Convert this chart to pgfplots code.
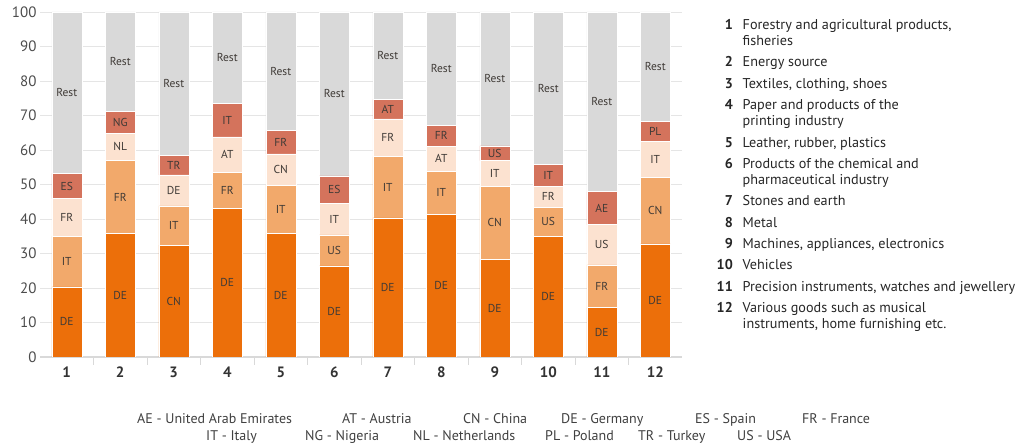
\documentclass[border=0pt]{standalone}
\usepackage{pgfplots}
\pgfplotsset{compat=1.18}
\usepackage{pgfplotstable}
\usepackage{fontspec}
\setmainfont{PT Sans}
\definecolor{cA}{HTML}{EC6F0A}
\definecolor{cB}{HTML}{F2A96B}
\definecolor{cC}{HTML}{FCE2D0}
\definecolor{cD}{HTML}{D4735C}
\definecolor{cR}{HTML}{D9D9D9}
\definecolor{txt}{HTML}{4D4D4D}
\definecolor{lbl}{HTML}{3F3A36}

\pgfplotstableread{
x v lab
1 20.3 DE
2 35.8 DE
3 32.4 CN
4 43.0 DE
5 35.8 DE
6 26.4 DE
7 40.3 DE
8 41.4 DE
9 28.3 DE
10 35.0 DE
11 14.3 DE
12 32.8 DE
}\LA
\pgfplotstableread{
x v lab
1 14.7 IT
2 21.1 FR
3 11.4 IT
4 10.6 FR
5 14.0 IT
6 9.0 US
7 17.8 IT
8 12.5 IT
9 21.1 CN
10 8.4 US
11 12.4 FR
12 19.3 CN
}\LB
\pgfplotstableread{
x v lab
1 10.9 FR
2 8.0 NL
3 9.0 DE
4 10.2 AT
5 9.1 CN
6 9.1 IT
7 10.9 FR
8 7.2 AT
9 7.5 IT
10 6.0 FR
11 11.7 US
12 10.4 IT
}\LC
\pgfplotstableread{
x v lab
1 7.3 ES
2 6.4 NG
3 5.7 TR
4 9.8 IT
5 6.7 FR
6 8.0 ES
7 5.7 AT
8 6.0 FR
9 4.3 US
10 6.5 IT
11 9.5 AE
12 5.8 PL
}\LD
\pgfplotstableread{
x v lab
1 46.8 Rest
2 28.7 Rest
3 41.5 Rest
4 26.4 Rest
5 34.4 Rest
6 47.5 Rest
7 25.3 Rest
8 32.9 Rest
9 38.8 Rest
10 44.1 Rest
11 52.1 Rest
12 31.7 Rest
}\LR

\newcommand{\lgfont}{\fontsize{14.2}{16}\selectfont}
\newcommand{\litem}[2]{\node[anchor=base east, inner sep=0pt, font=\lgfont\bfseries, text=black!85] at (733,#1) {#2};}
\newcommand{\ltext}[2]{\node[anchor=base west, inner sep=0pt, font=\lgfont, text=black!85] at (742.5,#1) {#2};}
\newcommand{\bl}[3]{\node[anchor=base west, inner sep=0pt, font=\fontsize{14}{15}\selectfont, text=black!75] at (#1,#2) {#3};}

\begin{document}
\begin{tikzpicture}[x=1pt,y=1pt]
\useasboundingbox (0,0) rectangle (1022,444);
\begin{axis}[
  scale only axis, width=642pt, height=345pt,
  at={(40pt,87pt)}, anchor=south west,
  ybar stacked, bar width=30pt,
  xmin=0.5, xmax=12.5, ymin=0, ymax=100,
  ytick={0,10,...,100},
  xtick={1,...,12},
  minor xtick={1.5,2.5,...,11.5},
  major tick length=0pt, minor tick length=8pt, tick align=outside,
  tick style={draw=black!15, line width=1pt},
  ymajorgrids, grid style={draw=black!10, line width=0.8pt},
  axis lines*=left,
  y axis line style={draw=none},
  x axis line style={draw=black!15, line width=1.2pt},
  /pgf/number format/assume math mode=true,
  yticklabel style={font=\fontsize{15}{15}\selectfont, text=black!70},
  xticklabel style={font=\fontsize{15}{15}\selectfont\bfseries, text=black!80, yshift=-6pt},
  point meta=explicit symbolic,
  nodes near coords,
  every node near coord/.append style={anchor=center, font=\fontsize{11.5}{12}\selectfont, text=lbl},
]
\addplot[fill=cA, draw=white, line width=0.5pt] table[x=x,y=v,meta=lab]{\LA};
\addplot[fill=cB, draw=white, line width=0.5pt] table[x=x,y=v,meta=lab]{\LB};
\addplot[fill=cC, draw=white, line width=0.5pt] table[x=x,y=v,meta=lab]{\LC};
\addplot[fill=cD, draw=white, line width=0.5pt] table[x=x,y=v,meta=lab]{\LD};
\addplot[fill=cR, draw=white, line width=0.5pt] table[x=x,y=v,meta=lab]{\LR};
\end{axis}
% right legend
\litem{414.7}{1}\ltext{414.7}{Forestry and agricultural products,}\ltext{398.4}{fisheries}
\litem{377}{2}\ltext{377}{Energy source}
\litem{355.5}{3}\ltext{355.5}{Textiles, clothing, shoes}
\litem{334}{4}\ltext{334}{Paper and products of the}\ltext{318}{printing industry}
\litem{296}{5}\ltext{296}{Leather, rubber, plastics}
\litem{275.5}{6}\ltext{275.5}{Products of the chemical and}\ltext{259.5}{pharmaceutical industry}
\litem{238}{7}\ltext{238}{Stones and earth}
\litem{216.5}{8}\ltext{216.5}{Metal}
\litem{195.5}{9}\ltext{195.5}{Machines, appliances, electronics}
\litem{174}{10}\ltext{174}{Vehicles}
\litem{152.5}{11}\ltext{152.5}{Precision instruments, watches and jewellery}
\litem{131}{12}\ltext{131}{Various goods such as musical}\ltext{115}{instruments, home furnishing etc.}
% bottom legend
\bl{137}{20}{AE - United Arab Emirates}
\bl{342}{20}{AT - Austria}
\bl{463}{20}{CN - China}
\bl{561}{20}{DE - Germany}
\bl{695}{20}{ES - Spain}
\bl{802}{20}{FR - France}
\bl{206}{3}{IT - Italy}
\bl{305}{3}{NG - Nigeria}
\bl{413}{3}{NL - Netherlands}
\bl{545}{3}{PL - Poland}
\bl{638}{3}{TR - Turkey}
\bl{737}{3}{US - USA}
\end{tikzpicture}
\end{document}
